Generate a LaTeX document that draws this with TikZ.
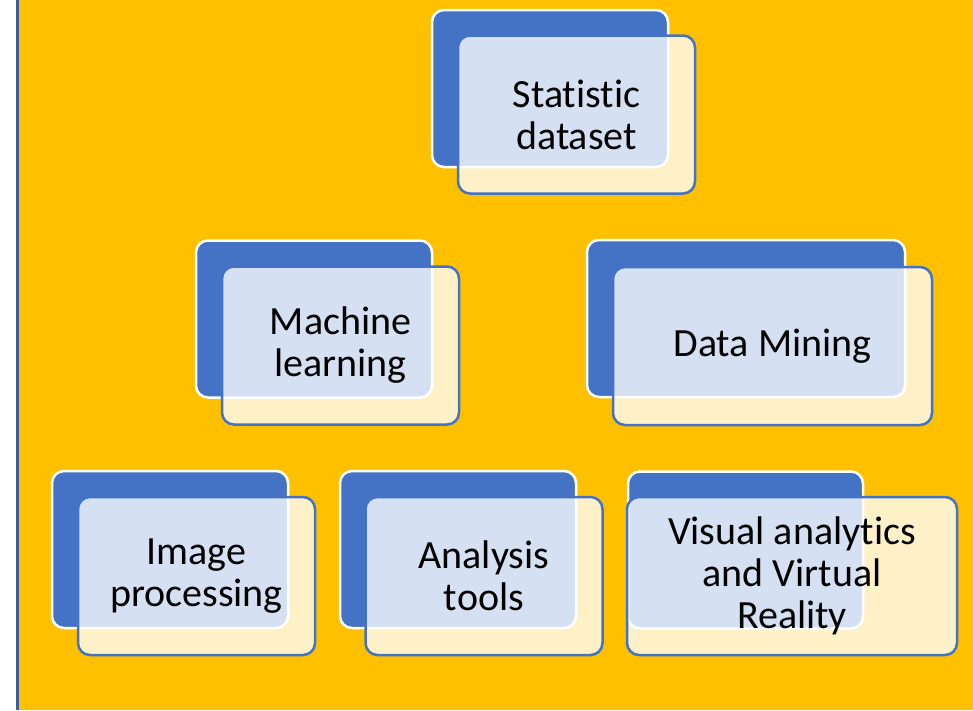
\documentclass[tikz,border=0pt]{standalone}
\usepackage{fontspec}
\setmainfont[Ligatures=NoCommon]{Carlito}
\usetikzlibrary{positioning}
\definecolor{pageyellow}{HTML}{FFC000}
\definecolor{cardblue}{HTML}{4472C4}
\definecolor{edgeblue}{HTML}{3A5D9F}
\begin{document}
\begin{tikzpicture}[x=1pt,y=-1pt,
  backcard/.style={draw=white, line width=2.5pt, fill=cardblue, rounded corners=12pt,
    minimum width=236pt, minimum height=157pt, inner sep=0pt, outer sep=0pt},
  frontcard/.style={draw=cardblue, line width=2.5pt, fill=white, fill opacity=0.78,
    text opacity=1, rounded corners=12pt, minimum width=237pt, minimum height=158pt,
    inner sep=0pt, outer sep=0pt, align=center, text=black,
    font=\fontsize{40}{42}\selectfont},
  wide/.style={minimum width=318pt}]
  % page background with the blue rule on the left
  \useasboundingbox (0,0) rectangle (973,710);
  \fill[white] (0,0) rectangle (16,710);
  \fill[edgeblue] (16,0) rectangle (19,710);
  \fill[pageyellow] (19,0) rectangle (973,710);

  % top level
  \node[backcard] (statback) at (550,88.5) {};
  \node[frontcard] (stat) at (576.5,114.5) {Statistic\\dataset};

  % second level
  \node[backcard] (mlback) at (314,319) {};
  \node[frontcard] (ml) at (340.5,345.5) {Machine\\learning};
  \node[backcard, wide] (dmback) at (746,318.5) {};
  \node[frontcard, minimum width=319pt] (dm) at (772.5,346) {Data Mining};

  % third level
  \node[backcard] (ipback) at (170,549.5) {};
  \node[frontcard] (ip) at (196.5,576) {Image\\processing};
  \node[backcard] (atback) at (458,549.5) {};
  \node[frontcard] (at) at (484,576) {Analysis\\tools};
  \node[backcard, minimum width=235pt] (vaback) at (745.5,550) {};
  \node[frontcard, minimum width=330pt] (va) at (792,576) {Visual analytics\\and Virtual\\Reality};
\end{tikzpicture}
\end{document}
